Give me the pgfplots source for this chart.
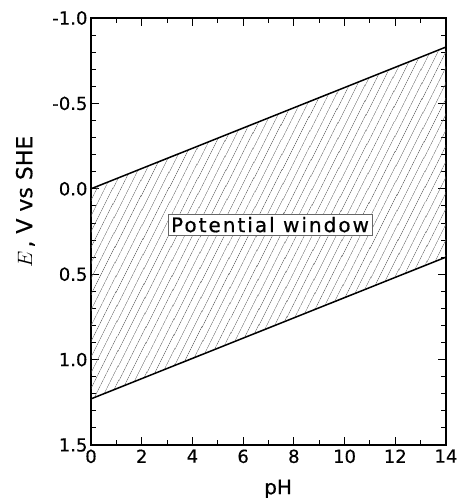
\documentclass[border=0pt]{standalone}
\usepackage{pgfplots}
\pgfplotsset{compat=1.18}
\usepgfplotslibrary{fillbetween}
\usetikzlibrary{patterns.meta}
\usepackage{graphicx}
\usepackage{fontspec}
\setmainfont{DejaVu Sans}
\newfontfamily\boxfont[LetterSpace=10,FakeBold=0.6]{DejaVu Sans}
\newfontfamily\tickfont[FakeBold=0.4]{DejaVu Sans}
\begin{document}
\begin{tikzpicture}
\begin{axis}[
  at={(0pt,0pt)}, anchor=south west,
  width=355pt, height=427pt, scale only axis,
  xmin=0, xmax=14, ymin=-1, ymax=1.5,
  y dir=reverse,
  xtick={0,2,...,14}, minor xtick={1,3,...,13},
  ytick={-1,-0.5,0,0.5,1,1.5}, minor ytick={-0.9,-0.8,...,1.45},
  tick align=inside, major tick length=8pt, minor tick length=5pt,
  tick style={black, line width=0.9pt},
  axis line style={line width=1.4pt},
  /pgf/number format/assume math mode=true,
  yticklabel style={/pgf/number format/fixed, /pgf/number format/fixed zerofill, /pgf/number format/precision=1, xshift=0pt},
  ticklabel style={font=\fontsize{18}{20}\tickfont},
  xticklabel style={yshift=-1pt},
  xlabel={pH}, ylabel={$E$\,, V vs SHE},
  xlabel style={font=\fontsize{20}{22}\tickfont, at={(axis description cs:0.527,-0.103)}, anchor=center},
  ylabel style={font=\fontsize{22}{24}\tickfont, at={(axis description cs:-0.185,0.57)}, anchor=center},
]
\addplot[name path=upper, black, line width=1.5pt] coordinates {(0,0) (14,-0.83)};
\addplot[name path=lower, black, line width=1.5pt] coordinates {(0,1.23) (14,0.40)};
\addplot[pattern={Lines[angle=63, distance=6.5pt, line width=0.5pt]}, pattern color=black!85, draw=none] fill between[of=upper and lower];
\node[draw=black!60, fill=white, inner sep=3pt, font=\fontsize{20}{22}\boxfont] at (axis cs:7.06,0.21) {Potential window};
\end{axis}
\pgfresetboundingbox
\path[use as bounding box] (-91pt,-53pt) rectangle (367pt,445pt);
\end{tikzpicture}
\end{document}
